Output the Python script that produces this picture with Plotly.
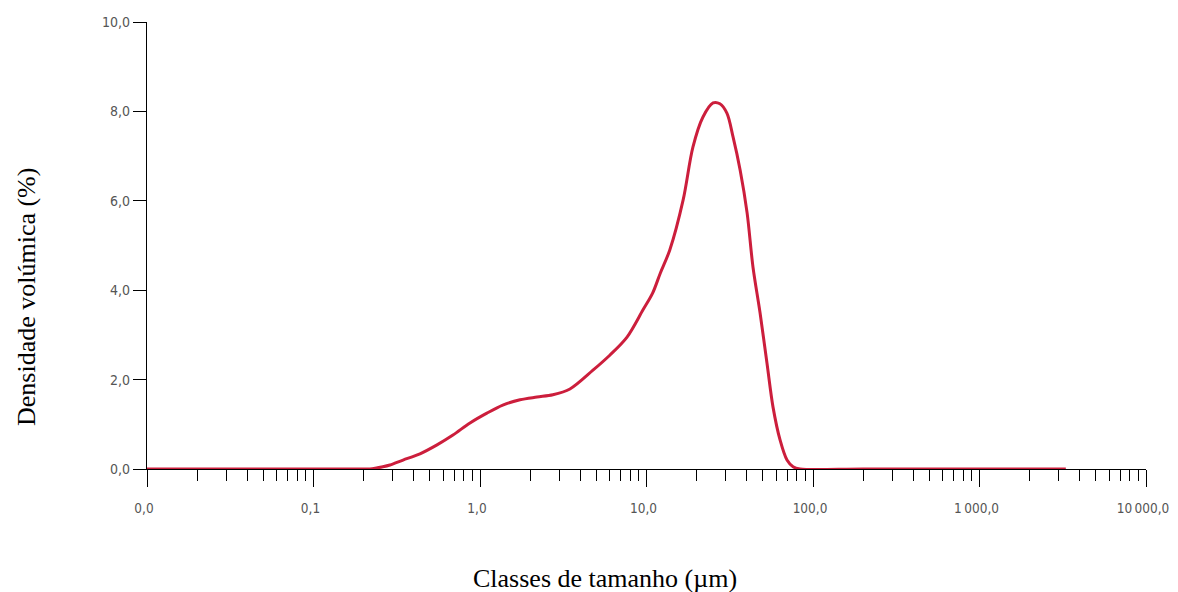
import plotly.graph_objects as go

# Particle size classes (µm) and volume density (%)
size_um = [0.01, 0.05, 0.1, 0.2, 0.218, 0.261, 0.288, 0.345, 0.436, 0.552, 0.688, 0.871,
           1.10, 1.37, 1.74, 2.20, 2.74, 3.47, 4.77, 6.04, 7.64, 9.53, 10.9,
           12.1, 13.8, 16.6, 19.0, 21.8, 25.1, 27.6, 30.4, 33.1, 36.5, 40.2, 43.6,
           48.1, 52.9, 57.5, 63.4, 69.8, 75.9, 83.6, 200, 1000, 3300]
density = [0.0, 0.0, 0.0, 0.0, 0.0, 0.05, 0.09, 0.2, 0.34, 0.54, 0.76, 1.03,
           1.25, 1.43, 1.55, 1.61, 1.66, 1.79, 2.21, 2.55, 2.95, 3.56, 3.94,
           4.38, 4.9, 6.02, 7.2, 7.87, 8.19, 8.17, 7.96, 7.43, 6.69, 5.73, 4.52,
           3.49, 2.37, 1.39, 0.65, 0.2, 0.05, 0.0, 0.0, 0.0, 0.0]

x_tickvals = [0.01, 0.1, 1, 10, 100, 1000, 10000]
x_ticktext = ["0,0", "0,1", "1,0", "10,0", "100,0", "1\u2009000,0", "10\u2009000,0"]
y_tickvals = [0, 2, 4, 6, 8, 10]
y_ticktext = ["0,0", "2,0", "4,0", "6,0", "8,0", "10,0"]

minor_vals = [d * m for d in [0.01, 0.1, 1, 10, 100, 1000] for m in range(2, 10)]

tick_font = dict(family="Liberation Sans Narrow, DejaVu Sans Condensed, Arial Narrow, Liberation Sans, sans-serif",
                 size=13.5, color="#555555")
y_tick_font = dict(family="Liberation Sans Narrow, DejaVu Sans Condensed, Arial Narrow, Liberation Sans, sans-serif",
                   size=14, color="#555555")
title_font = dict(family="Liberation Serif, Times New Roman, serif", size=26, color="#000000")

fig = go.Figure()
fig.add_trace(go.Scatter(
    x=size_um, y=density, mode="lines",
    line=dict(color="#CC1E3C", width=3, shape="spline", smoothing=0.9),
    showlegend=False, hoverinfo="skip"))

fig.update_layout(
    width=1170, height=584,
    margin=dict(l=139, r=32, t=14, b=123),
    paper_bgcolor="white", plot_bgcolor="white",
    xaxis=dict(type="log", range=[-2, 4], tickmode="array", tickvals=x_tickvals, ticktext=x_ticktext,
               ticks="outside", ticklen=17, tickwidth=1.3, tickcolor="#000", automargin=False,
               showline=True, linecolor="#000", linewidth=1.3, showgrid=False, zeroline=False,
               tickfont=tick_font, ticklabelstandoff=10, ticklabelshift=-3,
               minor=dict(tickmode="array", tickvals=minor_vals, ticks="outside", ticklen=11,
                          tickwidth=1.3, tickcolor="#000", showgrid=False)),
    yaxis=dict(range=[0, 10], tickmode="array", tickvals=y_tickvals, ticktext=y_ticktext,
               ticks="outside", ticklen=13, tickwidth=1.3, tickcolor="#000", automargin=False,
               showline=True, linecolor="#000", linewidth=1.3, showgrid=False, zeroline=False,
               tickfont=y_tick_font),
    annotations=[
        dict(text="Classes de tamanho (µm)", xref="paper", yref="paper", x=0.458, y=-0.244,
             xanchor="center", yanchor="middle", showarrow=False, font=title_font),
        dict(text="Densidade volúmica (%)", xref="paper", yref="paper", x=-0.12, y=0.385,
             xanchor="center", yanchor="middle", showarrow=False, textangle=-90, font=title_font),
    ],
)

fig.write_html("out.html")
